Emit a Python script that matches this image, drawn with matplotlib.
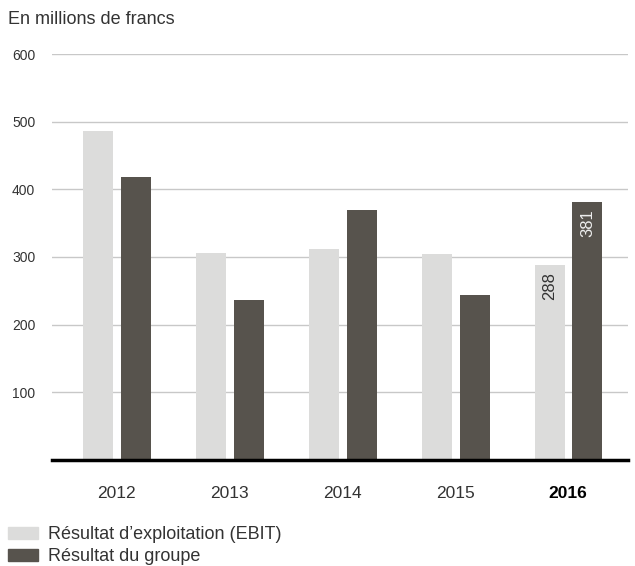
import matplotlib
matplotlib.use("Agg")
import matplotlib.pyplot as plt
from matplotlib.patches import Patch
import numpy as np

plt.rcParams['font.family'] = ['Liberation Sans', 'DejaVu Sans']

# Données
annees = ['2012', '2013', '2014', '2015', '2016']
ebit = [486, 306, 312, 304, 288]
groupe = [418, 236, 369, 244, 381]
noms = ['Résultat d\u2019exploitation (EBIT)', 'Résultat du groupe']

c_ebit = '#dcdcdb'
c_groupe = '#57534d'
fs = 13

fig = plt.figure(figsize=(6.35, 5.66), dpi=100)
ax = fig.add_axes([52/635, 106/566, 576/635, 406/566])

x = np.arange(len(annees))
w = 0.265
ax.bar(x - 0.165, ebit, w, color=c_ebit, zorder=2)
ax.bar(x + 0.17, groupe, w, color=c_groupe, zorder=2)

ax.set_xlim(-0.575, 4.53)
ax.set_ylim(0, 600)
ax.set_yticks([100, 200, 300, 400, 500, 600])
ax.grid(axis='y', color='#c8c8c8', linewidth=1, zorder=0)
for s in ['top', 'right', 'left']:
    ax.spines[s].set_visible(False)
ax.spines['bottom'].set_linewidth(2.5)
ax.spines['bottom'].set_color('black')
ax.tick_params(axis='y', length=0, pad=12, labelsize=10, labelcolor='#333333')
ax.tick_params(axis='x', length=0, pad=19, labelsize=12.5, labelcolor='#333333')
ax.set_xticks(x)
ax.set_xticklabels(annees)
ax.get_xticklabels()[-1].set_fontweight('bold')
ax.get_xticklabels()[-1].set_color('black')

# valeurs 2016
ax.text(4 - 0.165, ebit[4] - 10, str(ebit[4]), rotation=90, ha='center', va='top',
        fontsize=12, color='#333333')
ax.text(4 + 0.17, groupe[4] - 10, str(groupe[4]), rotation=90, ha='center', va='top',
        fontsize=12, color='#eeeeee')

fig.text(8/635, 1 - 20/566, 'En millions de francs', fontsize=fs, color='#333333',
         va='center', ha='left')

handles = [Patch(color=c_ebit), Patch(color=c_groupe)]
fig.legend(handles, noms, loc='lower left', bbox_to_anchor=(8/635, 1/566),
           frameon=False, fontsize=fs, handlelength=1.65, handleheight=0.66,
           handletextpad=0.55, labelspacing=0.25, labelcolor='#333333',
           borderaxespad=0, borderpad=0)

fig.savefig('out.png', dpi=100)
